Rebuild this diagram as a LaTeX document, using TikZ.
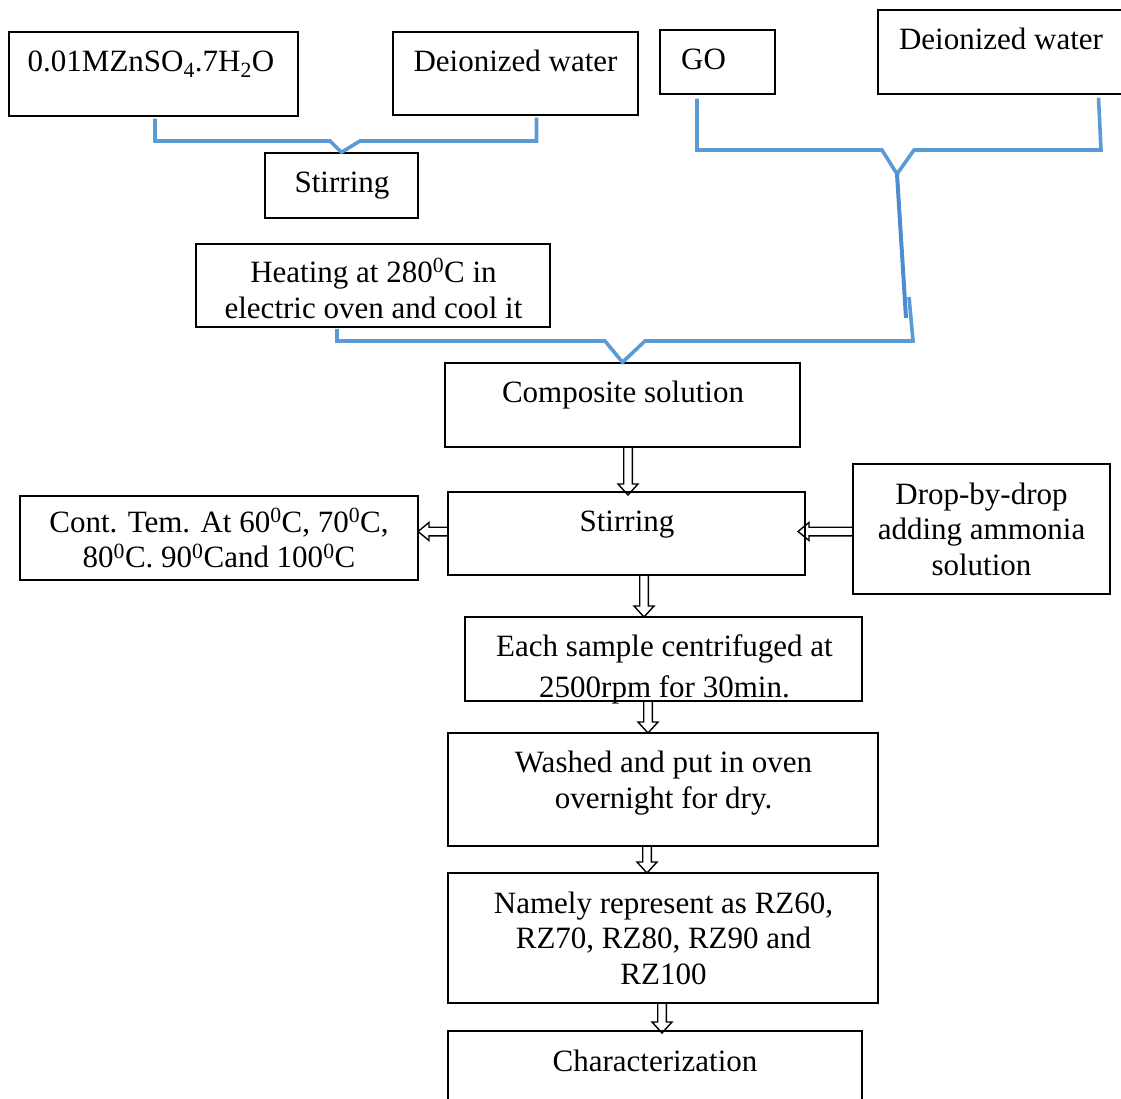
\documentclass[tikz,border=0pt]{standalone}
\usepackage{fontspec}
\setmainfont{Liberation Serif}
\usetikzlibrary{fit,calc}
\definecolor{conblue}{RGB}{91,155,213}
\definecolor{conblueb}{RGB}{78,140,210}
\newcommand\ml[2]{\fontsize{31}{#1}\selectfont\begin{tabular}[t]{@{}c@{}}#2\end{tabular}}
\newcommand\dg{\textsuperscript{0}}
\begin{document}
\begin{tikzpicture}[x=1pt,y=-1pt,
  bx/.style={draw=black, line width=1.5pt, inner sep=0pt},
  tx/.style={anchor=base, inner sep=0pt, font=\fontsize{31}{36}\selectfont},
  bl/.style={draw=conblue, line width=3.6pt, line join=miter},
  blb/.style={draw=conblueb, line width=4pt},
  hd/.style={draw=black, line width=1.4pt, line join=miter,
    to path={let \p1=(\tikztostart), \p2=(\tikztotarget) in
      (\x1-4.3pt,\y1) -- (\x1-4.3pt,\y2+11pt) -- (\x1-10pt,\y2+11pt) -- (\x1,\y2)
      -- (\x1+10pt,\y2+11pt) -- (\x1+4.3pt,\y2+11pt) -- (\x1+4.3pt,\y1)}},
  hl/.style={draw=black, line width=1.4pt, line join=miter,
    to path={let \p1=(\tikztostart), \p2=(\tikztotarget) in
      (\x1,\y1+4.3pt) -- (\x2+11pt,\y1+4.3pt) -- (\x2+11pt,\y1+9pt) -- (\x2,\y1)
      -- (\x2+11pt,\y1-9pt) -- (\x2+11pt,\y1-4.3pt) -- (\x1,\y1-4.3pt)}},
]
\useasboundingbox (0,0) rectangle (1121,1099);
\clip (0,0) rectangle (1121,1099);

% boxes
\node[bx, fit={(9,32) (298,116)}] (zn) {};
\node[bx, fit={(393,32) (638,115)}] (dw1) {};
\node[bx, fit={(660,30) (775,94)}] (go) {};
\node[bx, fit={(878,10) (1126,94)}] (dw2) {};
\node[bx, fit={(265,153) (418,218)}] (stir1) {};
\node[bx, fit={(196,244) (550,327)}] (heat) {};
\node[bx, fit={(445,363) (800,447)}] (comp) {};
\node[bx, fit={(448,492) (805,575)}] (stir2) {};
\node[bx, fit={(20,496) (418,580)}] (cont) {};
\node[bx, fit={(853,464) (1110,594)}] (drop) {};
\node[bx, fit={(465,617) (862,701)}] (each) {};
\node[bx, fit={(448,733) (878,846)}] (wash) {};
\node[bx, fit={(448,873) (878,1003)}] (nam) {};
\node[bx, fit={(448,1031) (862,1106)}] (char) {};

% texts
\node[tx] (znt) at (151,72) {0.01MZnSO\textsubscript{4}.7H\textsubscript{2}O};
\node[tx] (dw1t) at (515.5,72) {Deionized water};
\node[tx, anchor=base west] (got) at (681,70) {GO};
\node[tx] (dw2t) at (1001,50) {Deionized water};
\node[tx] (stir1t) at (342,193) {Stirring};
\node[tx] (heatt) at (373.5,282) {\ml{36}{Heating at 280\dg C in\\electric oven and cool it}};
\node[tx] (compt) at (623,402) {Composite solution};
\node[tx] (stir2t) at (627,531) {Stirring};
\node[tx] (contt) at (219,532) {\ml{35.5}{Cont. Tem. At 60\dg C, 70\dg C,\\80\dg C. 90\dg Cand 100\dg C}};
\node[tx] (dropt) at (981.5,504) {\ml{35.5}{Drop-by-drop\\adding ammonia\\solution}};
\node[tx] (eacht) at (664.5,656.5) {\ml{41}{Each sample centrifuged at\\2500rpm for 30min.}};
\node[tx] (washt) at (663.5,772) {\ml{36}{Washed and put in oven\\overnight for dry.}};
\node[tx] (namt) at (663.5,913) {\ml{35.5}{Namely represent as RZ60,\\RZ70, RZ80, RZ90 and\\RZ100}};
\node[tx] (chart) at (655,1071) {Characterization};

% blue brackets
\coordinate (v2) at (897,174);
\coordinate (j3) at (909,297);
\draw[bl] ([xshift=1.5pt,yshift=-2pt]zn.south) |- (330,141) -- (stir1.north)
  -- (360,141) -| ([xshift=21pt,yshift=-2pt]dw1.south);
\draw[bl] ([xshift=-20.5pt,yshift=-4pt]go.south) |- (882,150) -- (v2)
  -- (914,150) -- (1101,150) -- ([xshift=96.5pt,yshift=-3pt]dw2.south);
\draw[blb] (v2) -- (906,318);
\draw[bl] ([xshift=-36pt,yshift=-1pt]heat.south) |- (605,341) -- (comp.north)
  -- (645,341) -- (913,341) -- (j3);

% hollow arrows
\coordinate (a1) at (628,495);
\coordinate (a2) at (644,617);
\coordinate (a3) at (648,733);
\coordinate (a4) at (647,873);
\coordinate (a5) at (662,1033);
\coordinate (l1) at (418,531.5);
\coordinate (l2) at (798,531.5);
\draw[hd] (comp.south -| a1) to (a1);
\draw[hd] (stir2.south -| a2) to (a2);
\draw[hd] (each.south -| a3) to (a3);
\draw[hd] (wash.south -| a4) to (a4);
\draw[hd] (nam.south -| a5) to (a5);
\draw[hl] (stir2.west |- l1) to (l1);
\draw[hl] (drop.west |- l2) to (l2);
\end{tikzpicture}
\end{document}
